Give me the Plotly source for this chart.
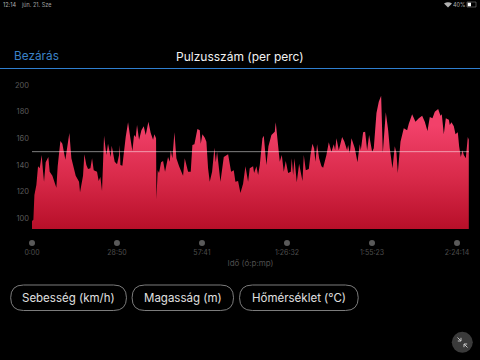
import plotly.graph_objects as go

# Heart-rate profile
times = [0,0,28,49,89,123,157,197,225,245,279,333,360,415,496,523,578,618,679,761,802,890,958,978,1039,1066,1107,1141,1189,1223,1257,1324,1358,1392,1426,1467,1514,1548,1602,1623,1684,1732,1773,1786,1800,1840,1908,1956,2003,2044,2078,2112,2139,2180,2228,2275,2316,2370,2417,2465,2492,2526,2533,2560,2587,2628,2669,2709,2770,2804,
2825,2859,2900,2940,2995,3076,3110,3178,3232,3266,3307,3368,3416,3436,3470,3518,3551,3585,3619,3667,3714,3742,3769,3796,3837,3905,3993,4054,4108,4142,4196,4244,4298,4346,4400,4434,4502,4522,4570,4604,4638,4692,4719,4773,4814,4875,4943,4963,5011,5045,5086,5127,5167,5215,5269,5289,5317,5344,5391,5439,5507,5534,5575,5636,5670,5710,5744,5771,5805,
5846,5894,5928,5995,6043,6097,6145,6172,6199,6247,6315,6362,6416,6437,6471,6505,6573,6627,6674,6695,6742,6783,6824,6864,6926,6959,7014,7061,7109,7143,7204,7252,7285,7340,7387,7421,7448,7503,7570,7638,7672,7740,7808,7876,7944,7998,8052,8100,8154,8202,8270,8317,8344,8385,8426,8487,8507,8541,8589,8623,8670,8697,8731,8765,8793,8833,8874,8894]
heart_rate = [92,98,99,117.5,125,139,137.5,147.5,135,127.5,142,146,135,132,123,139,158,156,144,164,145,132,127.5,119.5,132,148,140,137,137.5,145,136,135,128,131,120.5,162,147.5,156,146,154.5,142.5,140.5,147.5,155,140,139.5,161,172,160,150.5,162.5,161,170,159,166,169,162.5,172.5,164,159,163,160,114.5,136,134,142,143,135,146,142.5,
151,145,164.5,145,139,132,145,135,135,155,155.5,167,166,156,163,160.5,157.5,137.5,127.5,135,153,142,150,141,127.5,146,148,135,136,127.5,128,119,126,139,127.5,137.5,139,134,139,132.5,140,160,162,140,154,162.5,165,172,155,142.5,147.5,135,143,134,135,145,132.5,145,127,141,128,147.5,136,137,147.5,156,152.5,142.5,155.5,
145,139,138,147.5,157,150,155.5,151,160,151,161,157.5,151,155,149,160,152.5,142,155.5,151,164.5,165,151,162.5,150,152.5,179,187.5,192,149,179.5,166,152.5,137.5,154,149,134,157.5,167.5,166,171,178,172.5,175,177,172.5,165.5,176,175,180,182,177,178,163,175,174,170,172,169,163,164.5,154,146,151,147.5,145,161,159]
average_hr = 150
tick_secs = [0, 1730, 3461, 5192, 6923, 8654]
tick_labels = ["0:00", "28:50", "57:41", "1:26:32", "1:55:23", "2:24:14"]
y_ticks = [100, 120, 140, 160, 180, 200]
button_labels = ["Sebesség (km/h)", "Magasság (m)", "Hőmérséklet (°C)"]
title_text = "Pulzusszám (per perc)"
x_title = "Idő (ó:p:mp)"

FONT = "Inter, Roboto, sans-serif"
L, R, T, B = 32.3, 469.0, 85.0, 247.0
def fx(px): return (px - L) / (R - L)
def fy(py): return (B - py) / (B - T)

fig = go.Figure()
fig.add_trace(go.Scatter(
    x=times, y=heart_rate, mode="lines", line=dict(width=0), fill="tozeroy",
    fillgradient=dict(type="vertical", start=170, stop=92,
                      colorscale=[[0, "#f2416a"], [0.5, "#d92a4a"], [1, "#b70f29"]]),
    hoverinfo="skip", showlegend=False, yaxis="y"))
fig.add_trace(go.Scatter(
    x=[0, times[-1]], y=[average_hr, average_hr], mode="lines",
    line=dict(color="rgba(255,255,255,0.5)", width=1),
    hoverinfo="skip", showlegend=False, yaxis="y"))
fig.add_trace(go.Scatter(
    x=tick_secs, y=[0] * len(tick_secs), mode="markers", cliponaxis=False,
    marker=dict(color="#5a5a5a", size=6), hoverinfo="skip", showlegend=False, yaxis="y2"))

def button(x0, x1, y0, y1):
    r = (y1 - y0) / 2
    a, b, c, d, e, f = fx(x0), fx(x0 + r), fx(x1 - r), fx(x1), fy(y0), fy(y1)
    m = fy((y0 + y1) / 2)
    path = (f"M {b} {e} L {c} {e} Q {d} {e} {d} {m} Q {d} {f} {c} {f} "
            f"L {b} {f} Q {a} {f} {a} {m} Q {a} {e} {b} {e} Z")
    return dict(type="path", xref="paper", yref="paper", path=path,
                line=dict(color="#7c7c7c", width=1), layer="above")

def polyline(points, color="#c8c8c8", width=1):
    path = "M " + " L ".join(f"{fx(a)} {fy(b)}" for a, b in points)
    return dict(type="path", xref="paper", yref="paper", path=path,
                line=dict(color=color, width=width))

def text(px, py, s, size, color, anchor="center"):
    return dict(xref="paper", yref="paper", x=fx(px), y=fy(py), text=s, showarrow=False,
                xanchor=anchor, yanchor="middle", font=dict(family=FONT, size=size, color=color),
                borderpad=0, borderwidth=0)

shapes = [
    dict(type="line", xref="paper", yref="paper", x0=fx(0), x1=fx(480), y0=fy(68.5), y1=fy(68.5),
         line=dict(color="#2f7fd0", width=1)),
    button(11, 126.7, 285, 310.5), button(132.3, 233.7, 285, 310.5), button(239.7, 358.3, 285, 310.5),
    dict(type="circle", xref="paper", yref="paper", x0=fx(451.8), x1=fx(472.8), y0=fy(331.8), y1=fy(352.8),
         fillcolor="#3a3a3a", line=dict(width=0)),
    polyline([(457.5, 337.5), (461, 341)]),
    polyline([(461, 337.8), (461, 341), (457.8, 341)]),
    polyline([(464, 344), (467.5, 347.5)]),
    polyline([(464, 347.2), (464, 344), (467.2, 344)]),
    dict(type="rect", xref="paper", yref="paper", x0=fx(467), x1=fx(476), y0=fy(2), y1=fy(7),
         line=dict(color="#999999", width=0.5)),
    dict(type="rect", xref="paper", yref="paper", x0=fx(467.7), x1=fx(471), y0=fy(2.7), y1=fy(6.3),
         fillcolor="#ffffff", line=dict(width=0)),
    dict(type="path", xref="paper", yref="paper", line=dict(width=0), fillcolor="#b0b0b0",
         path=f"M {fx(444)} {fy(3.5)} Q {fx(448)} {fy(1)} {fx(452)} {fy(3.5)} L {fx(448)} {fy(7.5)} Z"),
]
annotations = [
    text(3, 4.5, "12:14", 5.5, "#b0b0b0", "left"),
    text(21, 4.5, "jún. 21. Sze", 5.5, "#a0a0a0", "left"),
    text(453, 4.5, "40%", 5.5, "#b0b0b0", "left"),
    text(14.5, 56, "Bezárás", 11.8, "#3b82c8", "left"),
    text(240, 57, title_text, 12, "#f2f2f2"),
    text(68.8, 298, button_labels[0], 11.5, "#e0e0e0"),
    text(183, 298, button_labels[1], 11.5, "#e0e0e0"),
    text(299, 298, button_labels[2], 11.5, "#e0e0e0"),
]

fig.update_layout(
    width=480, height=360, autosize=False,
    margin=dict(l=L, r=480 - R, t=T, b=360 - B, pad=0),
    paper_bgcolor="#000000", plot_bgcolor="#000000", showlegend=False,
    shapes=shapes, annotations=annotations,
    xaxis=dict(range=[0, 8898], anchor="y2", tickmode="array", tickvals=tick_secs, ticktext=tick_labels,
               showgrid=False, zeroline=False, showline=False, ticks="",
               tickfont=dict(family=FONT, size=7, color="#4e4e4e"),
               title=dict(text=x_title, standoff=4, font=dict(family=FONT, size=8, color="#4e4e4e"))),
    yaxis=dict(domain=[(B - 229) / (B - T), 1], range=[92, 200], tickmode="array", tickvals=y_ticks,
               showgrid=False, zeroline=False, showline=False, ticks="", ticklabelstandoff=2,
               tickfont=dict(family=FONT, size=7.5, color="#5a5a5a")),
    yaxis2=dict(domain=[0, (B - 239) / (B - T)], range=[-1, 1], visible=False, fixedrange=True),
)
fig.write_html("out.html", config=dict(displayModeBar=False),
               post_script="document.documentElement.style.background='#000';document.body.style.margin='0';document.body.style.overflow='hidden';")
